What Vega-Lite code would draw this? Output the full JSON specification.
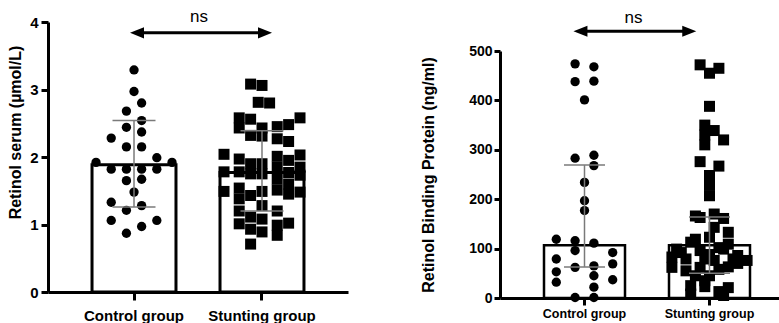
{
  "$schema": "https://vega.github.io/schema/vega-lite/v6.json",
  "padding": {"left": 7, "top": 8, "right": 0, "bottom": 0},
  "spacing": 72,
  "config": {
    "view": {"stroke": null},
    "font": "Liberation Sans",
    "axis": {
      "domainColor": "#000", "domainWidth": 3, "tickColor": "#000", "tickWidth": 3,
      "labelColor": "#000", "labelFontWeight": "bold", "titleColor": "#000", "titleFontWeight": "bold",
      "grid": false, "labelFont": "Liberation Sans", "titleFont": "Liberation Sans"
    }
  },
  "datasets": {
    "retinolPts": [
      {"group": "Control group", "value": 3.29, "slot": 0},
      {"group": "Control group", "value": 2.97, "slot": 0},
      {"group": "Control group", "value": 2.80, "slot": 2},
      {"group": "Control group", "value": 2.68, "slot": -2},
      {"group": "Control group", "value": 2.54, "slot": 2},
      {"group": "Control group", "value": 2.44, "slot": -2},
      {"group": "Control group", "value": 2.37, "slot": 2},
      {"group": "Control group", "value": 2.28, "slot": -6},
      {"group": "Control group", "value": 2.15, "slot": -2},
      {"group": "Control group", "value": 2.15, "slot": 2},
      {"group": "Control group", "value": 1.99, "slot": 6},
      {"group": "Control group", "value": 1.92, "slot": -10},
      {"group": "Control group", "value": 1.92, "slot": 10},
      {"group": "Control group", "value": 1.82, "slot": -6},
      {"group": "Control group", "value": 1.82, "slot": -2},
      {"group": "Control group", "value": 1.82, "slot": 2},
      {"group": "Control group", "value": 1.82, "slot": 6},
      {"group": "Control group", "value": 1.65, "slot": -2},
      {"group": "Control group", "value": 1.67, "slot": 2},
      {"group": "Control group", "value": 1.48, "slot": 0},
      {"group": "Control group", "value": 1.33, "slot": -6},
      {"group": "Control group", "value": 1.28, "slot": 2},
      {"group": "Control group", "value": 1.21, "slot": -2},
      {"group": "Control group", "value": 1.06, "slot": -6},
      {"group": "Control group", "value": 1.06, "slot": 6},
      {"group": "Control group", "value": 0.97, "slot": 2},
      {"group": "Control group", "value": 0.87, "slot": -2},
      {"group": "Stunting group", "value": 3.08, "slot": -3},
      {"group": "Stunting group", "value": 3.06, "slot": 0},
      {"group": "Stunting group", "value": 2.81, "slot": -1},
      {"group": "Stunting group", "value": 2.80, "slot": 2},
      {"group": "Stunting group", "value": 2.58, "slot": -6},
      {"group": "Stunting group", "value": 2.43, "slot": -6},
      {"group": "Stunting group", "value": 2.56, "slot": -3},
      {"group": "Stunting group", "value": 2.43, "slot": 0},
      {"group": "Stunting group", "value": 2.31, "slot": 0},
      {"group": "Stunting group", "value": 2.45, "slot": 4},
      {"group": "Stunting group", "value": 2.48, "slot": 7},
      {"group": "Stunting group", "value": 2.58, "slot": 10},
      {"group": "Stunting group", "value": 2.32, "slot": -3},
      {"group": "Stunting group", "value": 2.27, "slot": 4},
      {"group": "Stunting group", "value": 2.23, "slot": 7},
      {"group": "Stunting group", "value": 2.04, "slot": -10},
      {"group": "Stunting group", "value": 1.78, "slot": -10},
      {"group": "Stunting group", "value": 1.49, "slot": -10},
      {"group": "Stunting group", "value": 1.97, "slot": -6},
      {"group": "Stunting group", "value": 1.78, "slot": -6},
      {"group": "Stunting group", "value": 1.54, "slot": -6},
      {"group": "Stunting group", "value": 1.38, "slot": -6},
      {"group": "Stunting group", "value": 1.20, "slot": -6},
      {"group": "Stunting group", "value": 1.01, "slot": -6},
      {"group": "Stunting group", "value": 1.90, "slot": -3},
      {"group": "Stunting group", "value": 1.75, "slot": -3},
      {"group": "Stunting group", "value": 1.43, "slot": -3},
      {"group": "Stunting group", "value": 1.11, "slot": -3},
      {"group": "Stunting group", "value": 0.93, "slot": -3},
      {"group": "Stunting group", "value": 0.71, "slot": -3},
      {"group": "Stunting group", "value": 1.90, "slot": 0},
      {"group": "Stunting group", "value": 1.75, "slot": 0},
      {"group": "Stunting group", "value": 1.49, "slot": 0},
      {"group": "Stunting group", "value": 1.28, "slot": 0},
      {"group": "Stunting group", "value": 1.08, "slot": 0},
      {"group": "Stunting group", "value": 0.89, "slot": 0},
      {"group": "Stunting group", "value": 2.01, "slot": 4},
      {"group": "Stunting group", "value": 1.85, "slot": 4},
      {"group": "Stunting group", "value": 1.67, "slot": 4},
      {"group": "Stunting group", "value": 1.51, "slot": 4},
      {"group": "Stunting group", "value": 1.20, "slot": 4},
      {"group": "Stunting group", "value": 0.99, "slot": 4},
      {"group": "Stunting group", "value": 0.84, "slot": 4},
      {"group": "Stunting group", "value": 1.95, "slot": 7},
      {"group": "Stunting group", "value": 1.77, "slot": 7},
      {"group": "Stunting group", "value": 1.60, "slot": 7},
      {"group": "Stunting group", "value": 1.45, "slot": 7},
      {"group": "Stunting group", "value": 1.02, "slot": 7},
      {"group": "Stunting group", "value": 2.03, "slot": 10},
      {"group": "Stunting group", "value": 1.85, "slot": 10},
      {"group": "Stunting group", "value": 1.73, "slot": 10},
      {"group": "Stunting group", "value": 1.48, "slot": 10}
    ],
    "retinolSummary": [
      {"group": "Control group", "mean": 1.886, "lo": 1.26, "hi": 2.54},
      {"group": "Stunting group", "mean": 1.77, "lo": 1.20, "hi": 2.39}
    ],
    "rbpPts": [
      {"group": "Control group", "value": 474, "slot": -2},
      {"group": "Control group", "value": 468, "slot": 2},
      {"group": "Control group", "value": 438, "slot": -2},
      {"group": "Control group", "value": 439, "slot": 2},
      {"group": "Control group", "value": 401, "slot": 0},
      {"group": "Control group", "value": 283, "slot": -2},
      {"group": "Control group", "value": 289, "slot": 2},
      {"group": "Control group", "value": 268, "slot": 2},
      {"group": "Control group", "value": 234, "slot": 0},
      {"group": "Control group", "value": 197, "slot": 0},
      {"group": "Control group", "value": 177, "slot": 0},
      {"group": "Control group", "value": 119, "slot": -6},
      {"group": "Control group", "value": 116, "slot": -2},
      {"group": "Control group", "value": 111, "slot": 2},
      {"group": "Control group", "value": 96, "slot": -2},
      {"group": "Control group", "value": 79, "slot": -6},
      {"group": "Control group", "value": 92, "slot": 6},
      {"group": "Control group", "value": 69, "slot": 6},
      {"group": "Control group", "value": 62, "slot": -2},
      {"group": "Control group", "value": 65, "slot": 2},
      {"group": "Control group", "value": 53, "slot": -6},
      {"group": "Control group", "value": 32, "slot": -6},
      {"group": "Control group", "value": 45, "slot": 2},
      {"group": "Control group", "value": 37, "slot": 6},
      {"group": "Control group", "value": 22, "slot": 2},
      {"group": "Control group", "value": 1, "slot": -2},
      {"group": "Control group", "value": 1, "slot": 2},
      {"group": "Stunting group", "value": 472, "slot": -2},
      {"group": "Stunting group", "value": 465, "slot": 2},
      {"group": "Stunting group", "value": 455, "slot": 0},
      {"group": "Stunting group", "value": 388, "slot": 0},
      {"group": "Stunting group", "value": 350, "slot": -1},
      {"group": "Stunting group", "value": 330, "slot": -1},
      {"group": "Stunting group", "value": 310, "slot": -1},
      {"group": "Stunting group", "value": 339, "slot": 1},
      {"group": "Stunting group", "value": 320, "slot": 3},
      {"group": "Stunting group", "value": 276, "slot": -2},
      {"group": "Stunting group", "value": 267, "slot": 2},
      {"group": "Stunting group", "value": 248, "slot": 0},
      {"group": "Stunting group", "value": 228, "slot": 0},
      {"group": "Stunting group", "value": 207, "slot": 0},
      {"group": "Stunting group", "value": 166, "slot": -3},
      {"group": "Stunting group", "value": 163, "slot": -2},
      {"group": "Stunting group", "value": 170, "slot": 1},
      {"group": "Stunting group", "value": 161, "slot": 3},
      {"group": "Stunting group", "value": 143, "slot": 1},
      {"group": "Stunting group", "value": 119, "slot": -3},
      {"group": "Stunting group", "value": 123, "slot": 0},
      {"group": "Stunting group", "value": 133, "slot": 4},
      {"group": "Stunting group", "value": 109, "slot": 4},
      {"group": "Stunting group", "value": 99, "slot": -7},
      {"group": "Stunting group", "value": 113, "slot": -4},
      {"group": "Stunting group", "value": 99, "slot": 3},
      {"group": "Stunting group", "value": 83, "slot": -8},
      {"group": "Stunting group", "value": 79, "slot": -5},
      {"group": "Stunting group", "value": 79, "slot": -1},
      {"group": "Stunting group", "value": 76, "slot": 1},
      {"group": "Stunting group", "value": 79, "slot": 5},
      {"group": "Stunting group", "value": 76, "slot": 8},
      {"group": "Stunting group", "value": 62, "slot": -8},
      {"group": "Stunting group", "value": 62, "slot": -2},
      {"group": "Stunting group", "value": 63, "slot": 4},
      {"group": "Stunting group", "value": 45, "slot": -3},
      {"group": "Stunting group", "value": 45, "slot": 0},
      {"group": "Stunting group", "value": 25, "slot": -4},
      {"group": "Stunting group", "value": 23, "slot": -1},
      {"group": "Stunting group", "value": 21, "slot": 4},
      {"group": "Stunting group", "value": 8, "slot": -4},
      {"group": "Stunting group", "value": 5, "slot": 3},
      {"group": "Stunting group", "value": 92, "slot": -6},
      {"group": "Stunting group", "value": 96, "slot": -2},
      {"group": "Stunting group", "value": 102, "slot": 2},
      {"group": "Stunting group", "value": 86, "slot": 6},
      {"group": "Stunting group", "value": 88, "slot": 0},
      {"group": "Stunting group", "value": 58, "slot": 2},
      {"group": "Stunting group", "value": 55, "slot": -5},
      {"group": "Stunting group", "value": 70, "slot": 6},
      {"group": "Stunting group", "value": 35, "slot": -1},
      {"group": "Stunting group", "value": 13, "slot": 2}
    ],
    "rbpSummary": [
      {"group": "Control group", "mean": 107, "lo": 63, "hi": 269},
      {"group": "Stunting group", "mean": 107, "lo": 50, "hi": 164}
    ],
    "leftAnno": [
      {"from": "Control group", "to": "Stunting group", "y": 3.84, "yText": 4.07, "label": "ns"}
    ],
    "rightAnno": [
      {"from": "Control group", "to": "Stunting group", "y": 540, "yText": 567, "label": "ns"}
    ]
  },
  "hconcat": [
    {
      "width": 300,
      "height": 270,
      "resolve": {"scale": {"xOffset": "independent"}},
      "encoding": {
        "x": {
          "field": "group", "type": "nominal", "title": null,
          "scale": {"domain": ["Control group", "Stunting group"], "paddingInner": 0.344, "paddingOuter": 0.344},
          "axis": {"labelAngle": 0, "labelFontSize": 15, "tickSize": 8, "labelPadding": 8}
        }
      },
      "layer": [
        {
          "data": {"name": "retinolSummary"},
          "mark": {"type": "bar", "fill": "white", "stroke": "black", "strokeWidth": 3},
          "encoding": {
            "y": {
              "field": "mean", "type": "quantitative", "title": "Retinol serum (µmol/L)",
              "scale": {"domain": [0, 4], "nice": false},
              "axis": {"values": [0, 1, 2, 3, 4], "format": "d", "labelFontSize": 15, "titleFontSize": 16, "tickSize": 7, "labelPadding": 3, "titlePadding": 6, "titleY": 110}
            }
          }
        },
        {
          "data": {"name": "retinolPts"},
          "mark": {"type": "point", "filled": true, "color": "black", "opacity": 1, "strokeWidth": 0},
          "encoding": {
            "xOffset": {"field": "slot", "type": "quantitative", "scale": {"domain": [-10, 10], "range": [4, 80], "zero": false, "nice": false}},
            "y": {"field": "value", "type": "quantitative"},
            "shape": {"field": "group", "type": "nominal", "scale": {"domain": ["Control group", "Stunting group"], "range": ["circle", "square"]}, "legend": null},
            "size": {"field": "group", "type": "nominal", "scale": {"domain": ["Control group", "Stunting group"], "range": [87, 121]}, "legend": null}
          }
        },
        {
          "data": {"name": "retinolSummary"},
          "mark": {"type": "rule", "color": "#7a7a7a", "strokeWidth": 1.5},
          "encoding": {"y": {"field": "lo", "type": "quantitative"}, "y2": {"field": "hi"}}
        },
        {
          "data": {"name": "retinolSummary"},
          "mark": {"type": "tick", "color": "#7a7a7a", "size": 43, "thickness": 1.5, "opacity": 1},
          "encoding": {"y": {"field": "hi", "type": "quantitative"}}
        },
        {
          "data": {"name": "retinolSummary"},
          "mark": {"type": "tick", "color": "#7a7a7a", "size": 43, "thickness": 1.5, "opacity": 1},
          "encoding": {"y": {"field": "lo", "type": "quantitative"}}
        },
        {
          "data": {"name": "leftAnno"},
          "mark": {"type": "rule", "color": "black", "strokeWidth": 3},
          "encoding": {
            "x": {"field": "from", "type": "nominal", "bandPosition": 0.536},
            "x2": {"field": "to", "bandPosition": 0.536},
            "y": {"field": "y", "type": "quantitative"}
          }
        },
        {
          "data": {"name": "leftAnno"},
          "mark": {"type": "point", "filled": true, "color": "black", "opacity": 1, "strokeWidth": 0, "size": 196, "shape": "M-1,0L1,-0.8L1,0.8Z", "dx": 7},
          "encoding": {
            "x": {"field": "from", "type": "nominal", "bandPosition": 0.536},
            "y": {"field": "y", "type": "quantitative"}
          }
        },
        {
          "data": {"name": "leftAnno"},
          "mark": {"type": "point", "filled": true, "color": "black", "opacity": 1, "strokeWidth": 0, "size": 196, "shape": "M1,0L-1,-0.8L-1,0.8Z", "dx": -7},
          "encoding": {
            "x": {"field": "to", "type": "nominal", "bandPosition": 0.536},
            "y": {"field": "y", "type": "quantitative"}
          }
        },
        {
          "data": {"name": "leftAnno"},
          "mark": {"type": "text", "fontSize": 17, "font": "Liberation Sans", "color": "black", "baseline": "middle", "align": "center", "dx": 65},
          "encoding": {
            "x": {"field": "from", "type": "nominal"},
            "y": {"field": "yText", "type": "quantitative"},
            "text": {"field": "label"}
          }
        }
      ]
    },
    {
      "width": 294,
      "height": 276,
      "resolve": {"scale": {"xOffset": "independent"}},
      "encoding": {
        "x": {
          "field": "group", "type": "nominal", "title": null,
          "scale": {"domain": ["Control group", "Stunting group"], "paddingInner": 0.352, "paddingOuter": 0.352},
          "axis": {"labelAngle": 0, "labelFontSize": 12.5, "tickSize": 7, "labelPadding": 2}
        }
      },
      "layer": [
        {
          "data": {"name": "rbpSummary"},
          "mark": {"type": "bar", "fill": "white", "stroke": "black", "strokeWidth": 2.5},
          "encoding": {
            "y": {
              "field": "mean", "type": "quantitative", "title": "Retinol Binding Protein (ng/ml)",
              "scale": {"domain": [0, 500], "nice": false, "range": [276, 29]},
              "axis": {"values": [0, 100, 200, 300, 400, 500], "labelFontSize": 14, "titleFontSize": 16, "tickSize": 6, "labelPadding": 2, "titlePadding": 32}
            }
          }
        },
        {
          "data": {"name": "rbpPts"},
          "mark": {"type": "point", "filled": true, "color": "black", "opacity": 1, "strokeWidth": 0},
          "encoding": {
            "xOffset": {"field": "slot", "type": "quantitative", "scale": {"domain": [-8, 8], "range": [2.9, 78.1], "zero": false, "nice": false}},
            "y": {"field": "value", "type": "quantitative"},
            "shape": {"field": "group", "type": "nominal", "scale": {"domain": ["Control group", "Stunting group"], "range": ["circle", "square"]}, "legend": null},
            "size": {"field": "group", "type": "nominal", "scale": {"domain": ["Control group", "Stunting group"], "range": [72, 110]}, "legend": null}
          }
        },
        {
          "data": {"name": "rbpSummary"},
          "mark": {"type": "rule", "color": "#7a7a7a", "strokeWidth": 1.5},
          "encoding": {"y": {"field": "lo", "type": "quantitative"}, "y2": {"field": "hi"}}
        },
        {
          "data": {"name": "rbpSummary"},
          "mark": {"type": "tick", "color": "#7a7a7a", "size": 41, "thickness": 1.5, "opacity": 1},
          "encoding": {"y": {"field": "hi", "type": "quantitative"}}
        },
        {
          "data": {"name": "rbpSummary"},
          "mark": {"type": "tick", "color": "#7a7a7a", "size": 41, "thickness": 1.5, "opacity": 1},
          "encoding": {"y": {"field": "lo", "type": "quantitative"}}
        },
        {
          "data": {"name": "rightAnno"},
          "mark": {"type": "rule", "color": "black", "strokeWidth": 3},
          "encoding": {
            "x": {"field": "from", "type": "nominal", "bandPosition": 0.45},
            "x2": {"field": "to", "bandPosition": 0.25},
            "y": {"field": "y", "type": "quantitative"}
          }
        },
        {
          "data": {"name": "rightAnno"},
          "mark": {"type": "point", "filled": true, "color": "black", "opacity": 1, "strokeWidth": 0, "size": 196, "shape": "M-1,0L1,-0.8L1,0.8Z", "dx": 7},
          "encoding": {
            "x": {"field": "from", "type": "nominal", "bandPosition": 0.45},
            "y": {"field": "y", "type": "quantitative"}
          }
        },
        {
          "data": {"name": "rightAnno"},
          "mark": {"type": "point", "filled": true, "color": "black", "opacity": 1, "strokeWidth": 0, "size": 196, "shape": "M1,0L-1,-0.8L-1,0.8Z", "dx": -7},
          "encoding": {
            "x": {"field": "to", "type": "nominal", "bandPosition": 0.25},
            "y": {"field": "y", "type": "quantitative"}
          }
        },
        {
          "data": {"name": "rightAnno"},
          "mark": {"type": "text", "fontSize": 17, "font": "Liberation Sans", "color": "black", "baseline": "middle", "align": "center", "dx": 49},
          "encoding": {
            "x": {"field": "from", "type": "nominal"},
            "y": {"field": "yText", "type": "quantitative"},
            "text": {"field": "label"}
          }
        }
      ]
    }
  ]
}
